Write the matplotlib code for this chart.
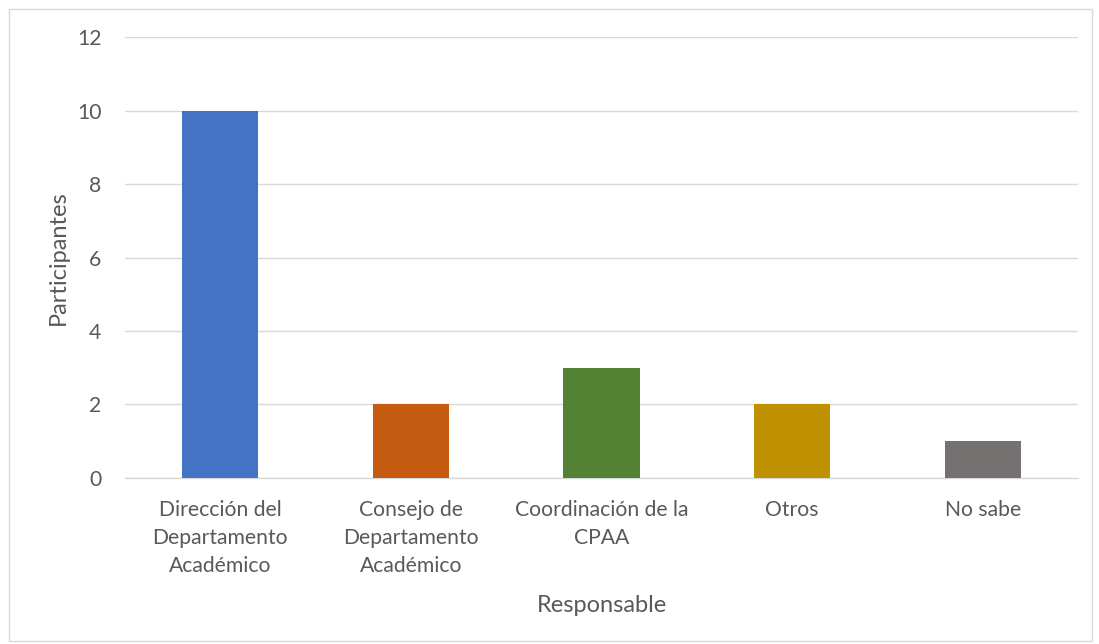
import matplotlib
matplotlib.use("Agg")
import matplotlib.pyplot as plt
from matplotlib.patches import Rectangle

categories = [
    "Dirección del\nDepartamento\nAcadémico",
    "Consejo de\nDepartamento\nAcadémico",
    "Coordinación de la\nCPAA",
    "Otros",
    "No sabe",
]
participantes = [10, 2, 3, 2, 1]
colors = ["#4472C4", "#C55A11", "#548235", "#BF9000", "#767171"]
yticks = [0, 2, 4, 6, 8, 10, 12]

plt.rcParams["font.family"] = ["Lato", "DejaVu Sans"]
text_color = "#595959"

fig = plt.figure(figsize=(10.99, 6.44), dpi=100)
ax = fig.add_axes([0.1137, 0.2578, 0.981 - 0.1137, 0.9425 - 0.2578])

x = range(len(categories))
ax.bar(x, participantes, width=0.4, color=colors, zorder=3)

ax.set_ylim(0, 12)
ax.set_xlim(-0.5, len(categories) - 0.5)
ax.set_yticks(yticks)
ax.set_xticks(list(x))
ax.set_xticklabels(categories, fontsize=15.2, color=text_color, linespacing=1.48)
ax.tick_params(axis="y", labelsize=15.2, labelcolor=text_color, length=0, pad=17)
ax.tick_params(axis="x", length=0, pad=16)
ax.grid(axis="y", color="#D9D9D9", linewidth=1, zorder=0)
for s in ["top", "right", "left"]:
    ax.spines[s].set_visible(False)
ax.spines["bottom"].set_color("#D9D9D9")
ax.spines["bottom"].set_linewidth(1)

ax.set_ylabel("Participantes", fontsize=17, color=text_color, labelpad=6)
ax.set_xlabel("Responsable", fontsize=17, color=text_color, labelpad=14)

# outer chart border
fig.patches.append(Rectangle((9 / 1099, 3 / 644), 1083 / 1099, 632 / 644,
                             transform=fig.transFigure, fill=False,
                             edgecolor="#D9D9D9", linewidth=1))

fig.savefig("out.png", dpi=100)
